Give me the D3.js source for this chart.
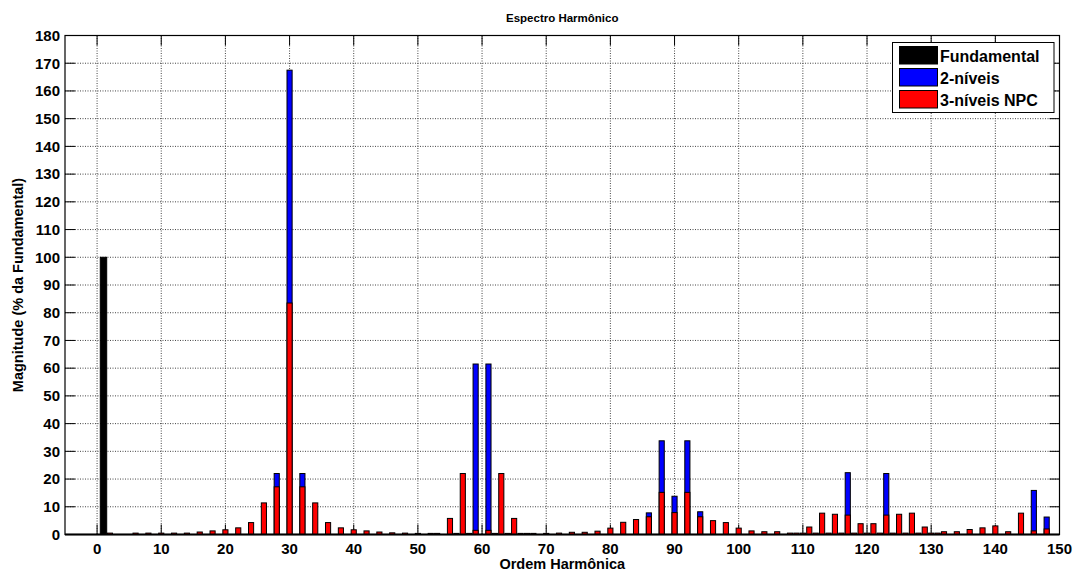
<!DOCTYPE html>
<html><head><meta charset="utf-8">
<script src="https://cdn.jsdelivr.net/npm/d3@7"></script>
<style>
body{margin:0;background:#fff;}
text{font-family:"Liberation Sans",Arial,sans-serif;font-weight:bold;fill:#000;}
</style></head>
<body><svg id="c" width="1077" height="574"></svg>
<script>
const fundamentalOrder = [1];
const fundamentalValue = [100];
const orders = [2,6,8,10,12,14,16,18,20,22,24,26,28,30,32,34,36,38,40,42,44,46,48,50,52,53,55,56,57,58,59,61,62,63,64,65,66,67,68,70,72,74,76,78,80,82,84,86,88,90,92,94,96,98,100,102,104,106,108,109,110,111,112,113,114,115,116,117,118,119,120,121,122,123,124,125,126,127,128,129,130,131,132,134,136,138,140,142,144,146,148];
const npc3 = [0.5,0.5,0.5,0.5,0.5,0.5,0.9,1.3,1.7,2.4,4.3,11.4,17.2,83.5,17.2,11.4,4.3,2.4,1.7,1.3,0.9,0.6,0.5,0.4,0.4,0.4,5.8,0.4,22.0,0.4,1.5,1.5,0.4,22.0,0.4,5.8,0.4,0.4,0.4,0.4,0.5,0.8,0.8,1.2,2.3,4.4,5.4,6.4,15.2,7.9,15.2,6.4,5.0,4.3,2.3,1.3,1.0,1.0,0.5,0.5,0.5,2.7,0.5,7.7,0.5,7.3,0.5,7.0,0.5,3.9,0.5,3.9,0.5,7.0,0.5,7.3,0.5,7.7,0.5,2.7,0.5,0.5,1.0,1.0,1.8,2.4,3.1,1.0,7.7,1.3,2.0];
const lvl2Orders = [28,30,32,59,61,86,88,90,92,94,117,123,146,148];
const lvl2 = [22.0,167.5,22.0,61.5,61.5,7.8,33.8,13.8,33.8,8.2,22.3,22.0,15.9,6.3];
const xTicks = [0,10,20,30,40,50,60,70,80,90,100,110,120,130,140,150];
const yTicks = [0,10,20,30,40,50,60,70,80,90,100,110,120,130,140,150,160,170,180];
const legendLabels = ["Fundamental","2-níveis","3-níveis NPC"];
const legendColors = ["#000000","#0000ff","#ff0000"];

const svg = d3.select("#c");
const L=65, R=1059.5, T=35.5, B=534.5;
const x = d3.scaleLinear().domain([-5,150]).range([L,R]);
const y = d3.scaleLinear().domain([0,180]).range([B,T]);

// grid
const g = svg.append("g");
g.selectAll(".gx").data(xTicks.filter(d=>d>-5&&d<150)).enter().append("line")
 .attr("x1",d=>x(d)).attr("x2",d=>x(d)).attr("y1",T).attr("y2",B)
 .attr("stroke","#444").attr("stroke-width",1).attr("stroke-dasharray","1,1.5");
g.selectAll(".gy").data(yTicks.filter(d=>d>0&&d<180)).enter().append("line")
 .attr("x1",L).attr("x2",R).attr("y1",d=>y(d)).attr("y2",d=>y(d))
 .attr("stroke","#444").attr("stroke-width",1).attr("stroke-dasharray","1,1.5");

// tick marks inside
const tk=10;
svg.append("g").selectAll("line").data(xTicks).enter().append("line")
 .attr("x1",d=>x(d)).attr("x2",d=>x(d)).attr("y1",B).attr("y2",B-tk).attr("stroke","#000");
svg.append("g").selectAll("line").data(xTicks).enter().append("line")
 .attr("x1",d=>x(d)).attr("x2",d=>x(d)).attr("y1",T).attr("y2",T+tk).attr("stroke","#000");
svg.append("g").selectAll("line").data(yTicks).enter().append("line")
 .attr("x1",L).attr("x2",L+tk).attr("y1",d=>y(d)).attr("y2",d=>y(d)).attr("stroke","#000");
svg.append("g").selectAll("line").data(yTicks).enter().append("line")
 .attr("x1",R).attr("x2",R-tk).attr("y1",d=>y(d)).attr("y2",d=>y(d)).attr("stroke","#000");

// bars
const bw = 0.8;
const wpx = x(bw)-x(0);
const bars = svg.append("g");
bars.selectAll(".f").data(fundamentalOrder.map((o,i)=>({o,v:fundamentalValue[i]}))).enter().append("rect")
 .attr("x",d=>x(d.o-0.5)).attr("width",x(1)-x(0)).attr("y",d=>y(d.v)).attr("height",d=>y(0)-y(d.v))
 .attr("fill","#000").attr("stroke","#000").attr("stroke-width",1);
bars.selectAll(".b").data(lvl2Orders.map((o,i)=>({o,v:lvl2[i]}))).enter().append("rect")
 .attr("x",d=>x(d.o-bw/2)).attr("width",wpx).attr("y",d=>y(d.v)).attr("height",d=>y(0)-y(d.v))
 .attr("fill","#0000ff").attr("stroke","#000").attr("stroke-width",1);
bars.selectAll(".r").data(orders.map((o,i)=>({o,v:npc3[i]}))).enter().append("rect")
 .attr("x",d=>x(d.o-bw/2)).attr("width",wpx).attr("y",d=>y(d.v)).attr("height",d=>y(0)-y(d.v))
 .attr("fill","#ff0000").attr("stroke","#000").attr("stroke-width",1);

// baseline
svg.append("line").attr("x1",L).attr("x2",R).attr("y1",B).attr("y2",B).attr("stroke","#000").attr("stroke-width",2);
// frame
svg.append("rect").attr("x",L).attr("y",T).attr("width",R-L).attr("height",B-T)
 .attr("fill","none").attr("stroke","#000").attr("stroke-width",1.2);

// tick labels
svg.append("g").selectAll("text").data(xTicks).enter().append("text")
 .attr("x",d=>x(d)).attr("y",554).attr("text-anchor","middle").attr("font-size",15).text(d=>d);
svg.append("g").selectAll("text").data(yTicks).enter().append("text")
 .attr("x",60).attr("y",d=>y(d)+5.3).attr("text-anchor","end").attr("font-size",15).text(d=>d);

// titles
svg.append("text").attr("x",(L+R)/2).attr("y",22).attr("text-anchor","middle").attr("font-size",11.5).text("Espectro Harmônico");
svg.append("text").attr("x",(L+R)/2).attr("y",569).attr("text-anchor","middle").attr("font-size",14.5).text("Ordem Harmônica");
svg.append("text").attr("transform",`translate(23,${(T+B)/2}) rotate(-90)`).attr("text-anchor","middle").attr("font-size",14.5).text("Magnitude (% da Fundamental)");

// legend
const lg = svg.append("g");
lg.append("rect").attr("x",892.5).attr("y",42.5).attr("width",161.5).attr("height",70).attr("fill","#fff").attr("stroke","#000").attr("stroke-width",1);
legendLabels.forEach((lab,i)=>{
  const yy = 46.5 + i*22;
  lg.append("rect").attr("x",899.5).attr("y",yy).attr("width",38).attr("height",17.5).attr("fill",legendColors[i]).attr("stroke","#000").attr("stroke-width",1);
  lg.append("text").attr("x",940).attr("y",yy+15).attr("font-size",16).text(lab);
});
</script></body></html>
